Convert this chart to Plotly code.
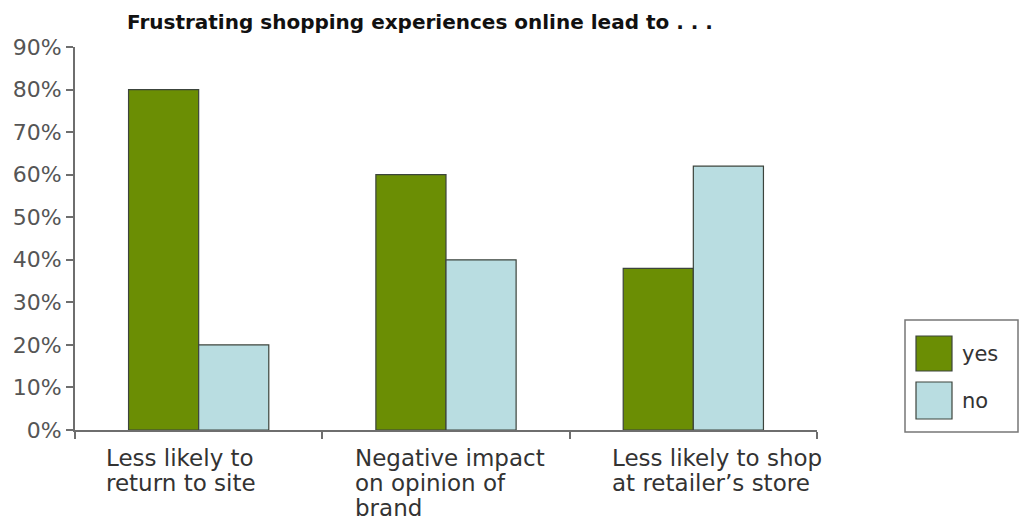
import plotly.graph_objects as go

# Survey results
categories = ["Less likely to return to site",
              "Negative impact on opinion of brand",
              "Less likely to shop at retailer's store"]
category_labels = ["Less likely to<br>return to site",
                   "Negative impact<br>on opinion of<br>brand",
                   "Less likely to shop<br>at retailer\u2019s store"]
yes_values = [80, 60, 38]
no_values = [20, 40, 62]
series_names = ["yes", "no"]
y_ticks = [0, 10, 20, 30, 40, 50, 60, 70, 80, 90]
y_tick_text = [f"{v}%" for v in y_ticks]

GREEN = "#6b8e04"
LIGHT_BLUE = "#b9dde1"
OUTLINE = "#3c443c"
AXIS = "#6e6e6e"
FONT = "DejaVu Sans, Arial, sans-serif"

W, H = 1020, 523
ML, MR, MT, MB = 75, W - 817, 47, H - 430
PW, PH = W - ML - MR, H - MT - MB


def px_x(px):
    return (px - ML) / PW


def px_y(py):
    return (H - MB - py) / PH


fig = go.Figure()
fig.add_trace(go.Bar(x=list(range(len(categories))), y=yes_values, name=series_names[0],
                     marker=dict(color=GREEN, line=dict(color=OUTLINE, width=1.2)),
                     hovertext=categories))
fig.add_trace(go.Bar(x=list(range(len(categories))), y=no_values, name=series_names[1],
                     marker=dict(color=LIGHT_BLUE, line=dict(color=OUTLINE, width=1.2)),
                     hovertext=categories))

fig.update_layout(
    width=W, height=H,
    margin=dict(l=ML, r=MR, t=MT, b=MB),
    plot_bgcolor="white", paper_bgcolor="white",
    barmode="group", bargap=0.433, bargroupgap=0,
    showlegend=False,
    font=dict(family=FONT, color="#333333"),
    title=dict(text="<b>Frustrating shopping experiences online lead to . . .</b>",
               x=127 / W, xanchor="left", xref="container",
               y=1 - 22 / H, yanchor="middle",
               font=dict(family=FONT, size=20, color="#111111")),
)

fig.update_xaxes(
    type="linear", range=[-0.5, 2.5],
    tickvals=[-0.5, 0.5, 1.5, 2.5], ticks="outside", ticklen=7, tickwidth=1.5,
    tickcolor=AXIS, showticklabels=False,
    showline=True, linecolor=AXIS, linewidth=2, showgrid=False, zeroline=False,
)
fig.update_yaxes(
    range=[0, 90], tickvals=y_ticks, ticktext=y_tick_text,
    ticks="outside", ticklen=7, tickwidth=1.5, tickcolor=AXIS,
    tickfont=dict(family=FONT, size=22, color="#555555"),
    showline=True, linecolor=AXIS, linewidth=2, showgrid=False, zeroline=False,
)

# Category labels, left-aligned under each group, one annotation per line
label_shifts = [29, 31, 40]
LINE_TOP, LINE_STEP = 443, 25
for i, (lab, dx) in enumerate(zip(category_labels, label_shifts)):
    for k, line in enumerate(lab.split("<br>")):
        fig.add_annotation(x=i - 0.5, y=px_y(LINE_TOP + k * LINE_STEP),
                           xref="x", yref="paper", text=line,
                           xanchor="left", yanchor="top", align="left",
                           xshift=dx, showarrow=False,
                           font=dict(family=FONT, size=23, color="#333333"))

# Legend box
fig.add_shape(type="rect", xref="paper", yref="paper",
              x0=px_x(905), x1=px_x(1018), y0=px_y(432), y1=px_y(320),
              line=dict(color="#777777", width=1.5), fillcolor="white")
legend_rows = [(336, 371, GREEN), (382, 419, LIGHT_BLUE)]
for (top, bottom, col), name in zip(legend_rows, series_names):
    fig.add_shape(type="rect", xref="paper", yref="paper",
                  x0=px_x(916), x1=px_x(952), y0=px_y(bottom), y1=px_y(top),
                  line=dict(color=OUTLINE, width=1.2), fillcolor=col)
    fig.add_annotation(x=px_x(960), y=px_y((top + bottom) / 2), xref="paper", yref="paper",
                       text=name, xanchor="left", yanchor="middle", showarrow=False,
                       font=dict(family=FONT, size=21, color="#333333"))

fig.write_html("out.html")
